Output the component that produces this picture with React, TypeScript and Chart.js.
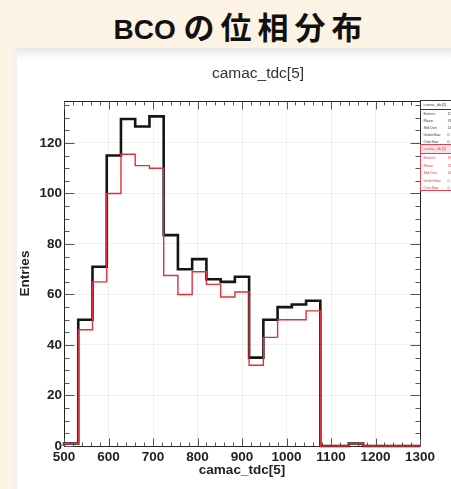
import React, { useEffect, useRef } from 'react';
import { Chart, registerables } from 'chart.js';

Chart.register(...registerables);

// ---- data ----
const binLow = [500, 532, 564, 596, 628, 660, 692, 724, 756, 788, 820, 852, 884, 916, 948, 980, 1012, 1044, 1076, 1108, 1140, 1172, 1204, 1236, 1268];
const binEnd = 1300;
const blackCounts = [1, 50, 71, 115, 129.5, 126.5, 130.5, 83.5, 70, 74, 66, 65, 67, 35, 50, 55, 56, 57.5, 0, 0, 1, 0, 0, 0, 0];
const redCounts = [1, 46, 65, 100, 115.5, 111, 110, 67.5, 60, 69, 64, 59, 61, 32, 43, 50, 50, 53.5, 0, 0, 1, 0, 0, 0, 0];

const xMin = 500;
const xMax = 1300;
const xStep = 100;
const yMin = 0;
const yMax = 136.6;
const yStep = 20;

const statsRows = ['Entries', 'Mean', 'Std Dev', 'Underflow', 'Overflow'];
const statsBlackValues = ['1583', '768.8', '143.2', '0', '0'];
const statsRedValues = ['1395', '767.1', '142.6', '0', '0'];

const FONT = '"Liberation Sans", Arial, Helvetica, sans-serif';

function toSteps(counts: number[]) {
  const pts: { x: number; y: number }[] = [{ x: binLow[0], y: 0 }];
  for (let i = 0; i < binLow.length; i++) pts.push({ x: binLow[i], y: counts[i] });
  pts.push({ x: binEnd, y: 0 });
  return pts;
}

const rootPlugin = {
  id: 'rootFrame',
  beforeDatasetsDraw(chart: any) {
    const { ctx, chartArea, scales } = chart;
    const { left, right, top, bottom } = chartArea;
    const x = scales.x;
    const y = scales.y;
    ctx.save();
    ctx.strokeStyle = '#222';
    ctx.lineWidth = 1;
    const L = Math.round(left) + 0.5;
    const R = Math.round(right) + 0.5;
    const T = Math.round(top) + 0.5;
    const B = Math.round(bottom) + 0.5;
    ctx.strokeRect(L, T, R - L, B - T);
    ctx.strokeStyle = '#555';
    ctx.beginPath();
    for (let v = xMin; v <= xMax + 0.01; v += 20) {
      const px = Math.round(x.getPixelForValue(v)) + 0.5;
      const major = Math.abs(v % 100) < 0.01;
      const len = major ? 8 : 4;
      ctx.moveTo(px, B);
      ctx.lineTo(px, B - len);
      ctx.moveTo(px, T);
      ctx.lineTo(px, T + len);
    }
    for (let v = yMin; v <= yMax; v += 5) {
      const py = Math.round(y.getPixelForValue(v)) + 0.5;
      const major = Math.abs(v % 20) < 0.01;
      const len = major ? 10 : 5;
      ctx.moveTo(L, py);
      ctx.lineTo(L + len, py);
      ctx.moveTo(R, py);
      ctx.lineTo(R - len, py);
    }
    ctx.stroke();
    ctx.restore();
  },
  afterDraw(chart: any) {
    const { ctx, chartArea } = chart;
    const bx = Math.round(chartArea.right) + 0.5;
    const by = Math.round(chartArea.top) - 0.5;
    const w = 60;
    ctx.save();
    ctx.font = `3.8px ${FONT}`;
    ctx.textBaseline = 'middle';
    // black box
    const h1 = 44;
    ctx.fillStyle = '#fff';
    ctx.fillRect(bx, by, w, h1);
    ctx.strokeStyle = '#333';
    ctx.lineWidth = 1;
    ctx.strokeRect(bx, by, w, h1);
    ctx.beginPath();
    ctx.moveTo(bx, by + 9);
    ctx.lineTo(bx + w, by + 9);
    ctx.stroke();
    ctx.fillStyle = '#444';
    ctx.fillText('camac_tdc[5]', bx + 3, by + 4.5);
    statsRows.forEach((r, i) => {
      ctx.fillText(r, bx + 3, by + 13 + i * 7);
      ctx.fillText(statsBlackValues[i], bx + 27, by + 13 + i * 7);
    });
    // red box
    const by2 = by + h1;
    const h2 = 46;
    ctx.fillStyle = '#fff';
    ctx.fillRect(bx, by2, w, h2);
    ctx.fillStyle = '#fbe4e6';
    ctx.fillRect(bx, by2, w, 9);
    ctx.strokeStyle = '#e0404c';
    ctx.strokeRect(bx, by2, w, h2);
    ctx.beginPath();
    ctx.moveTo(bx, by2 + 9);
    ctx.lineTo(bx + w, by2 + 9);
    ctx.stroke();
    ctx.fillStyle = '#e0404c';
    ctx.fillText('camac_tdc[5]', bx + 3, by2 + 4.5);
    statsRows.forEach((r, i) => {
      ctx.fillText(r, bx + 3, by2 + 13.5 + i * 7.5);
      ctx.fillText(statsRedValues[i], bx + 27, by2 + 13.5 + i * 7.5);
    });
    ctx.restore();
  },
};

function HistChart() {
  const ref = useRef<HTMLCanvasElement | null>(null);
  useEffect(() => {
    if (!ref.current) return;
    const chart = new Chart(ref.current, {
      type: 'line',
      data: {
        datasets: [
          {
            label: 'red',
            data: toSteps(redCounts),
            borderColor: '#e0303c',
            borderWidth: 1.4,
            stepped: 'before',
            pointRadius: 0,
            fill: false,
            clip: false as any,
          },
          {
            label: 'black',
            data: toSteps(blackCounts),
            borderColor: '#151515',
            borderWidth: 2.6,
            stepped: 'before',
            pointRadius: 0,
            fill: false,
            clip: false as any,
          },
        ],
      },
      options: {
        animation: false,
        responsive: false,
        devicePixelRatio: 1,
        layout: { padding: { left: 0, top: 53, right: 31, bottom: 0 } },
        plugins: { legend: { display: false }, tooltip: { enabled: false }, title: { display: false } },
        scales: {
          x: {
            type: 'linear',
            min: xMin,
            max: xMax,
            afterFit: (s: any) => { s.height = 43; },
            ticks: {
              stepSize: xStep,
              color: '#222',
              font: { family: FONT, size: 13.5, weight: 'bold' },
              padding: 3,
              maxRotation: 0,
              callback: (v: any) => String(v),
            },
            grid: { color: 'rgba(0,0,0,0.06)', drawTicks: false },
            border: { display: false },
            title: {
              display: true,
              text: 'camac_tdc[5]',
              color: '#222',
              font: { family: FONT, size: 13.5, weight: 'bold' },
              padding: { top: 0, bottom: 11 },
            },
          },
          y: {
            type: 'linear',
            min: yMin,
            max: yMax,
            afterFit: (s: any) => { s.width = 50; },
            ticks: {
              stepSize: yStep,
              includeBounds: false,
              color: '#222',
              font: { family: FONT, size: 13.5, weight: 'bold' },
              padding: 2,
              callback: (v: any) => String(v),
            },
            grid: { color: 'rgba(0,0,0,0.06)', drawTicks: false },
            border: { display: false },
            title: {
              display: true,
              text: 'Entries',
              color: '#222',
              font: { family: FONT, size: 13.5, weight: 'bold' },
              padding: { top: 3, bottom: 0 },
            },
          },
        },
      } as any,
      plugins: [rootPlugin],
    });
    return () => chart.destroy();
  }, []);
  return <canvas ref={ref} width={437} height={441} style={{ width: 437, height: 441, display: 'block' }} />;
}

export default function App() {
  return (
    <div style={{ position: 'fixed', left: 0, top: 0, width: 451, height: 489, background: '#fdf3e4', overflow: 'hidden', fontFamily: FONT }}>
      <div
        style={{
          position: 'absolute',
          left: 241,
          top: 6,
          transform: 'translateX(-50%)',
          whiteSpace: 'nowrap',
          fontWeight: 'bold',
          color: '#111',
          fontFamily: `${FONT}, "Noto Sans CJK JP"`,
          lineHeight: '40px',
        }}
      >
        <span style={{ fontSize: 28 }}>BCO </span>
        <span style={{ fontSize: 31, letterSpacing: 6, fontFamily: '"Noto Sans CJK JP", sans-serif' }}>の位相分布</span>
      </div>
      <div
        style={{
          position: 'absolute',
          left: 14,
          top: 48,
          width: 437,
          height: 441,
          background: 'linear-gradient(to bottom, #e6e6e6 0px, #f6f6f6 7px, #ffffff 11px)',
          boxShadow: 'inset 3px 0 0 #f1f1f1',
        }}
      >
        <HistChart />
        <div
          style={{
            position: 'absolute',
            left: 244,
            top: 16,
            transform: 'translateX(-50%)',
            fontSize: 15.5,
            color: '#333',
            whiteSpace: 'nowrap',
            fontFamily: FONT,
          }}
        >
          camac_tdc[5]
        </div>
      </div>
    </div>
  );
}
